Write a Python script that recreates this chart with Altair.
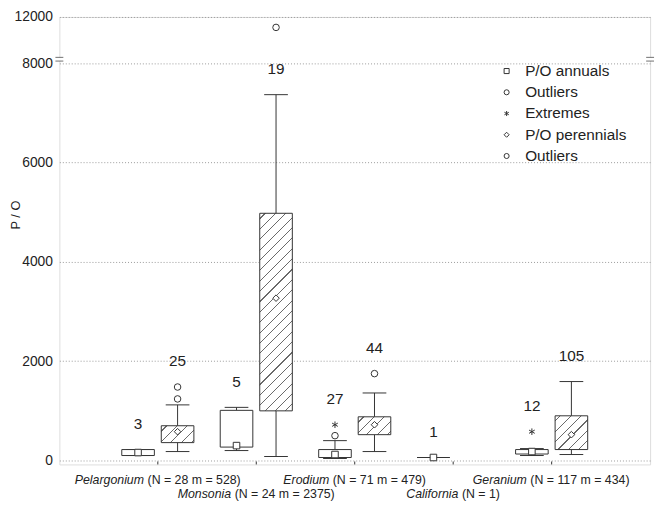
import altair as alt
import pandas as pd

# ---------------- data ----------------
genera = ["Pelargonium", "Monsonia", "Erodium", "California", "Geranium"]
genus_stats = ["(N = 28 m = 528)", "(N = 24 m = 2375)", "(N = 71 m = 479)",
               "(N = 1)", "(N = 117 m = 434)"]
label_row = [0, 1, 0, 1, 0]

# annual species (P/O): whisker min, q1, median, q3, whisker max
ann_genus = ["Pelargonium", "Monsonia", "Erodium", "California", "Geranium"]
ann_n = [3, 5, 27, 1, 12]
ann_min = [100, 200, 40, 60, 100]
ann_q1 = [100, 270, 60, 60, 130]
ann_med = [160, 300, 120, 60, 180]
ann_q3 = [220, 1010, 220, 60, 220]
ann_max = [220, 1070, 400, 60, 240]
ann_outliers = {"Erodium": [500]}
ann_extremes = {"Erodium": [720], "Geranium": [580]}

# perennial species (P/O)
per_genus = ["Pelargonium", "Monsonia", "Erodium", "Geranium"]
per_n = [25, 19, 44, 105]
per_min = [180, 80, 180, 120]
per_q1 = [360, 1000, 520, 220]
per_med = [580, 3270, 720, 520]
per_q3 = [700, 4980, 880, 900]
per_max = [1120, 7370, 1360, 1590]
per_outliers = {"Pelargonium": [1240, 1480], "Monsonia": [11100], "Erodium": [1750]}

y_ticks = [0, 2000, 4000, 6000, 8000, 12000]
legend_kinds = ["P/O annuals", "Outliers", "Extremes", "P/O perennials", "Outliers "]

# ---------------- layout ----------------
W, H = 598, 453
Y_BREAK_PX = 47
Y_DOMAIN = [-80, 8000, 12000]
Y_RANGE = [H, Y_BREAK_PX, 0]
PX_PER_UNIT = W / 6.0
BOX_HALF = 16.5 / PX_PER_UNIT
CAP_HALF = 12 / PX_PER_UNIT
SHIFT = 20 / PX_PER_UNIT
FONT = "Liberation Sans"
INK = "#333333"
TXT = "#222222"


def ypix(v):
    if v <= 8000:
        return H - (v - Y_DOMAIN[0]) / (8000 - Y_DOMAIN[0]) * (H - Y_BREAK_PX)
    return Y_BREAK_PX - (v - 8000) / 4000 * Y_BREAK_PX


yscale = alt.Scale(domain=Y_DOMAIN, range=Y_RANGE, zero=False, nice=False)
xscale = alt.Scale(domain=[0, 6], zero=False, nice=False)
yaxis = alt.Axis(values=y_ticks, format="d", title="P / O", grid=True, domain=False, ticks=False,
                 labelPadding=7, labelFontSize=14, labelFont=FONT, labelColor=TXT,
                 titleFont=FONT, titleFontSize=13, titleFontWeight="normal",
                 titleColor=TXT, titleX=-37, titleY=200, gridDash=[1, 2],
                 gridColor="#9a9a9a", gridWidth=1, labelFlush=False)


def X(f):
    return alt.X(f, type="quantitative", scale=xscale, axis=None)


def Y(f):
    return alt.Y(f, type="quantitative", scale=yscale, axis=yaxis)


# ---------------- build tables ----------------
boxes, points = [], []
for i, g in enumerate(ann_genus):
    xc = genera.index(g) + 1 - SHIFT
    top = max([ann_max[i]] + [v for v in ann_outliers.get(g, []) + ann_extremes.get(g, []) if v < 8000])
    boxes.append(dict(kind="annual", genus=g, xc=xc, xl=xc - BOX_HALF, xr=xc + BOX_HALF,
                      cl=xc - CAP_HALF, cr=xc + CAP_HALF, mn=ann_min[i], q1=ann_q1[i],
                      med=ann_med[i], q3=ann_q3[i], mx=ann_max[i], n=str(ann_n[i]), top=top))
    points.append(dict(x=xc, y=ann_med[i], kind="P/O annuals"))
    for v in ann_outliers.get(g, []):
        points.append(dict(x=xc, y=v, kind="Outliers"))
    for v in ann_extremes.get(g, []):
        points.append(dict(x=xc, y=v, kind="Extremes"))
for i, g in enumerate(per_genus):
    xc = genera.index(g) + 1 + SHIFT
    top = max([per_max[i]] + [v for v in per_outliers.get(g, []) if v < 8000])
    boxes.append(dict(kind="perennial", genus=g, xc=xc, xl=xc - BOX_HALF, xr=xc + BOX_HALF,
                      cl=xc - CAP_HALF, cr=xc + CAP_HALF, mn=per_min[i], q1=per_q1[i],
                      med=per_med[i], q3=per_q3[i], mx=per_max[i], n=str(per_n[i]), top=top))
    points.append(dict(x=xc, y=per_med[i], kind="P/O perennials"))
    for v in per_outliers.get(g, []):
        points.append(dict(x=xc, y=v, kind="Outliers "))

bdf = pd.DataFrame(boxes)
pdf = pd.DataFrame(points)

# whiskers
whisk = alt.Chart(bdf).mark_rule(color=INK, strokeWidth=1).encode(x=X("xc"), y=Y("mn"), y2="q1")
whisk2 = alt.Chart(bdf).mark_rule(color=INK, strokeWidth=1).encode(x=X("xc"), y=Y("q3"), y2="mx")
cap_lo = alt.Chart(bdf).mark_rule(color=INK, strokeWidth=1).encode(x=X("cl"), x2="cr", y=Y("mn"))
cap_hi = alt.Chart(bdf).mark_rule(color=INK, strokeWidth=1).encode(x=X("cl"), x2="cr", y=Y("mx"))

ann_boxes = alt.Chart(bdf[bdf.kind == "annual"]).mark_rect(
    fill="white", stroke=INK, strokeWidth=1).encode(x=X("xl"), x2="xr", y=Y("q1"), y2="q3")

# hatched perennial boxes: striped linear gradient, 45 degree lines
hatch_layers = []
PERIOD, LINE = 10.5, 1.1
for _, r in bdf[bdf.kind == "perennial"].iterrows():
    w = 2 * BOX_HALF * PX_PER_UNIT
    h = ypix(r.q1) - ypix(r.q3)
    c = (w + h) / (w * w + h * h)
    tot = w + h
    stops = [{"offset": 0, "color": "white"}]
    k = 0
    while True:
        a = (k * PERIOD + 5) / tot
        b = a + LINE / tot
        if b >= 1:
            break
        stops += [{"offset": a, "color": "white"}, {"offset": a, "color": "#6a6a6a"},
                  {"offset": b, "color": "#6a6a6a"}, {"offset": b, "color": "white"}]
        k += 1
    stops.append({"offset": 1, "color": "white"})
    grad = {"gradient": "linear", "x1": 0, "y1": 0, "x2": c * w, "y2": c * h, "stops": stops}
    hatch_layers.append(
        alt.Chart(pd.DataFrame([r])).mark_rect(fill=grad, stroke=INK, strokeWidth=1)
        .encode(x=X("xl"), x2="xr", y=Y("q1"), y2="q3"))

ASTER = "M0,-1L0,1M-0.87,-0.5L0.87,0.5M-0.87,0.5L0.87,-0.5"
leg = alt.Legend(title=None, orient="none", legendX=445, legendY=47,
                 labelExpr="trim(datum.label)", labelFont=FONT,
                 labelFontSize=15.5, labelColor=TXT, symbolSize=26,
                 symbolStrokeWidth=1, labelOffset=11, rowPadding=4.5, padding=0)
pts = alt.Chart(pdf).mark_point(filled=False, fill="white", fillOpacity=1,
                                strokeWidth=1, opacity=1, size=44).encode(
    x=X("x"), y=Y("y"),
    shape=alt.Shape("kind:N", scale=alt.Scale(domain=legend_kinds,
                    range=["square", "circle", ASTER, "diamond", "circle"]), legend=leg),
    color=alt.Color("kind:N", scale=alt.Scale(domain=legend_kinds, range=[INK] * 5), legend=leg),
)

counts = alt.Chart(bdf).mark_text(font=FONT, fontSize=15.5, color=TXT, dy=-26,
                                  baseline="middle", align="center").encode(
    x=X("xc"), y=Y("top"), text="n:N")

# x labels: italic genus + regular stats, centred together on the category
CW = {' ': 278, '(': 333, ')': 333, '=': 584, 'N': 722, 'P': 667, 'M': 833, 'E': 667,
      'C': 722, 'G': 778, 'a': 556, 'd': 556, 'e': 556, 'f': 278, 'g': 556, 'i': 222,
      'l': 222, 'm': 833, 'n': 556, 'o': 556, 'r': 333, 's': 500, 'u': 556}
for d in "0123456789":
    CW[d] = 556
LSIZE = 12.5


def tw(s):
    return sum(CW.get(ch, 556) for ch in s) / 1000 * LSIZE


lab = []
for i, g in enumerate(genera):
    full = tw(g + " " + genus_stats[i])
    start = (i + 1) - full / 2 / PX_PER_UNIT
    lab.append(dict(g=g, s=genus_stats[i], xg=start, xs=start + tw(g + " ") / PX_PER_UNIT,
                    row=label_row[i]))
ldf = pd.DataFrame(lab)
xl_layers = []
for row, yy in [(0, H + 16), (1, H + 30)]:
    sub = ldf[ldf.row == row]
    xl_layers.append(alt.Chart(sub).mark_text(font=FONT, fontSize=LSIZE, fontStyle="italic",
                                              color=TXT, align="left", baseline="middle")
                     .encode(x=X("xg"), y=alt.value(yy), text="g:N"))
    xl_layers.append(alt.Chart(sub).mark_text(font=FONT, fontSize=LSIZE, color=TXT,
                                              align="left", baseline="middle")
                     .encode(x=X("xs"), y=alt.value(yy), text="s:N"))

tdf = pd.DataFrame({"pos": [1, 2, 3, 4, 5]})
xticks = alt.Chart(tdf).mark_rule(color=INK).encode(x=X("pos"), y=alt.value(H - 3), y2=alt.value(H))

# axis break marks at 8000 on both frame edges
edf = pd.DataFrame({"edge": [0, 6]})
gap = alt.Chart(edf).mark_rule(color="white", strokeWidth=3).encode(
    x=X("edge"), y=alt.datum(8200), y2=alt.datum(8520))
brk1 = alt.Chart(edf).mark_tick(color=INK, thickness=1, size=8, orient="horizontal").encode(
    x=X("edge"), y=alt.datum(8200))
brk2 = alt.Chart(edf).mark_tick(color=INK, thickness=1, size=8, orient="horizontal").encode(
    x=X("edge"), y=alt.datum(8520))

chart = alt.layer(
    whisk, whisk2, cap_lo, cap_hi, ann_boxes, *hatch_layers, pts, counts, *xl_layers,
    xticks, gap, brk1, brk2
).properties(
    width=W, height=H, autosize=alt.AutoSizeParams(type="none"),
    padding={"left": 52, "top": 6, "right": 8, "bottom": 40}
).configure_view(stroke=INK, strokeWidth=1).configure(background="white")

chart.save("out.html", embed_options={"renderer": "svg", "actions": False})
